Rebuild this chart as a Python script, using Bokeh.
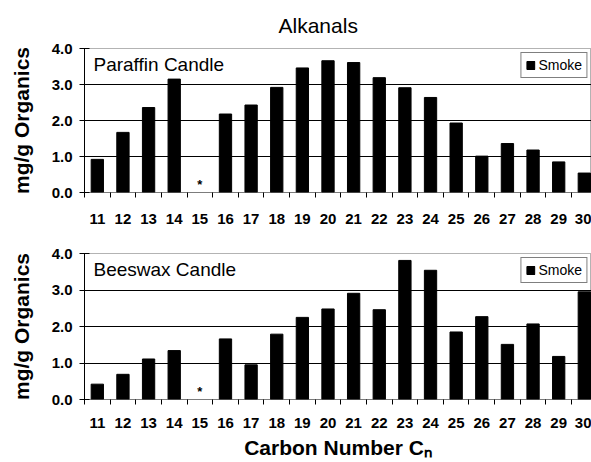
from bokeh.plotting import figure
from bokeh.layouts import column
from bokeh.models import Range1d, FixedTicker, PrintfTickFormatter, Label
from bokeh.core.properties import value
from bokeh.embed import file_html
from bokeh.resources import INLINE

# Alkanal emissions in candle smoke, mg per g of organics, by carbon number
carbon = [11, 12, 13, 14, 15, 16, 17, 18, 19, 20,
          21, 22, 23, 24, 25, 26, 27, 28, 29, 30]
paraffin = [0.92, 1.67, 2.36, 3.15, None, 2.18, 2.43, 2.92, 3.46, 3.66,
            3.61, 3.19, 2.91, 2.64, 1.93, 1.01, 1.36, 1.18, 0.85, 0.54]
beeswax = [0.42, 0.69, 1.11, 1.34, None, 1.66, 0.95, 1.79, 2.25, 2.48,
           2.91, 2.46, 3.81, 3.54, 1.85, 2.27, 1.51, 2.07, 1.18, 2.95]
not_measured = [15]          # marked with an asterisk
y_ticks = [0, 1, 2, 3, 4]
grid_levels = [1, 2, 3]

FONT = "Liberation Sans"


def panel(name, values, height, top, bottom, frame_h, tick_standoff,
          title=None, x_label=None):
    p = figure(width=591, height=height, output_backend="svg", toolbar_location=None,
               x_range=Range1d(10.5, 30.28), y_range=Range1d(0, 4),
               min_border_left=84, min_border_right=0,
               min_border_top=top, min_border_bottom=bottom,
               frame_height=frame_h, frame_width=507)
    p.background_fill_color = "white"
    p.border_fill_color = "white"
    p.outline_line_color = "#666666"
    p.outline_line_dash = "1 1"
    p.outline_line_width = 1

    xs = [c for c, v in zip(carbon, values) if v is not None]
    ys = [v for v in values if v is not None]
    p.vbar(x=xs, top=ys, bottom=0, width=0.48, fill_color="black",
           line_color="black", legend_label="Smoke")

    p.text(x=not_measured, y=[0.22] * len(not_measured), text=["*"] * len(not_measured),
           text_font=value(FONT), text_font_size="13px", text_font_style="bold",
           text_align="center", text_baseline="middle", text_color="black")

    # horizontal grid
    p.xgrid.visible = False
    p.ygrid.ticker = FixedTicker(ticks=grid_levels)
    p.ygrid.grid_line_color = "black"
    p.ygrid.grid_line_width = 1

    # y axis
    ya = p.yaxis[0]
    ya.ticker = FixedTicker(ticks=y_ticks)
    ya.formatter = PrintfTickFormatter(format="%.1f")
    ya.axis_line_color = "black"
    ya.major_tick_in = 5
    ya.major_tick_out = 5
    ya.major_tick_line_color = "black"
    ya.minor_tick_line_color = None
    ya.major_label_standoff = 7
    ya.major_label_text_font = FONT
    ya.major_label_text_font_style = "bold"
    ya.major_label_text_font_size = "15px"
    ya.major_label_text_color = "black"
    ya.axis_label = "mg/g Organics"
    ya.axis_label_text_font = FONT
    ya.axis_label_text_font_style = "bold"
    ya.axis_label_text_font_size = "21px"
    ya.axis_label_text_color = "black"
    ya.axis_label_standoff = 16

    # x axis: labels at bar centres, tick marks between categories
    xa = p.xaxis[0]
    xa.ticker = FixedTicker(ticks=carbon, minor_ticks=[c - 0.5 for c in carbon] + [carbon[-1] + 0.5])
    xa.axis_line_color = "#444444"
    xa.axis_line_dash = "1 1"
    xa.major_tick_in = 0
    xa.major_tick_out = 0
    xa.minor_tick_in = 0
    xa.minor_tick_out = 5
    xa.minor_tick_line_color = "black"
    xa.major_label_standoff = tick_standoff
    xa.major_label_text_font = FONT
    xa.major_label_text_font_style = "bold"
    xa.major_label_text_font_size = "15px"
    xa.major_label_text_color = "black"
    if x_label:
        xa.axis_label = x_label
        xa.axis_label_text_font = FONT
        xa.axis_label_text_font_style = "bold"
        xa.axis_label_text_font_size = "21px"
        xa.axis_label_text_color = "black"
        xa.axis_label_standoff = 5
        xa.axis_label_text_line_height = 1.0

    if title:
        p.title.text = title
        p.title.text_font = FONT
        p.title.text_font_style = "normal"
        p.title.text_font_size = "21px"
        p.title.text_color = "black"
        p.title.align = "left"
        p.title.offset = 194
        p.title.standoff = 23

    p.add_layout(Label(x=10.85, y=3.55, text=name, text_font=FONT,
                       text_font_size="19px", text_color="black",
                       text_baseline="middle", text_align="left"))

    lg = p.legend[0]
    lg.location = "top_right"
    lg.margin = 4
    lg.padding = 4
    lg.spacing = 0
    lg.border_line_color = "black"
    lg.border_line_width = 1
    lg.background_fill_color = "white"
    lg.background_fill_alpha = 1
    lg.glyph_width = 10
    lg.glyph_height = 10
    lg.label_height = 14
    lg.label_standoff = 3
    lg.label_text_font = FONT
    lg.label_text_font_size = "14px"
    lg.label_text_color = "black"
    return p


top_panel = panel("Paraffin Candle", paraffin, 230, 48, 38, 144, 16, title="Alkanals")
bottom_panel = panel("Beeswax Candle", beeswax, 232, 23, 63, 146, 13,
                     x_label="Carbon Number C\u2099")

layout = column(top_panel, bottom_panel, spacing=0)
open("out.html", "w").write(file_html(layout, INLINE))
